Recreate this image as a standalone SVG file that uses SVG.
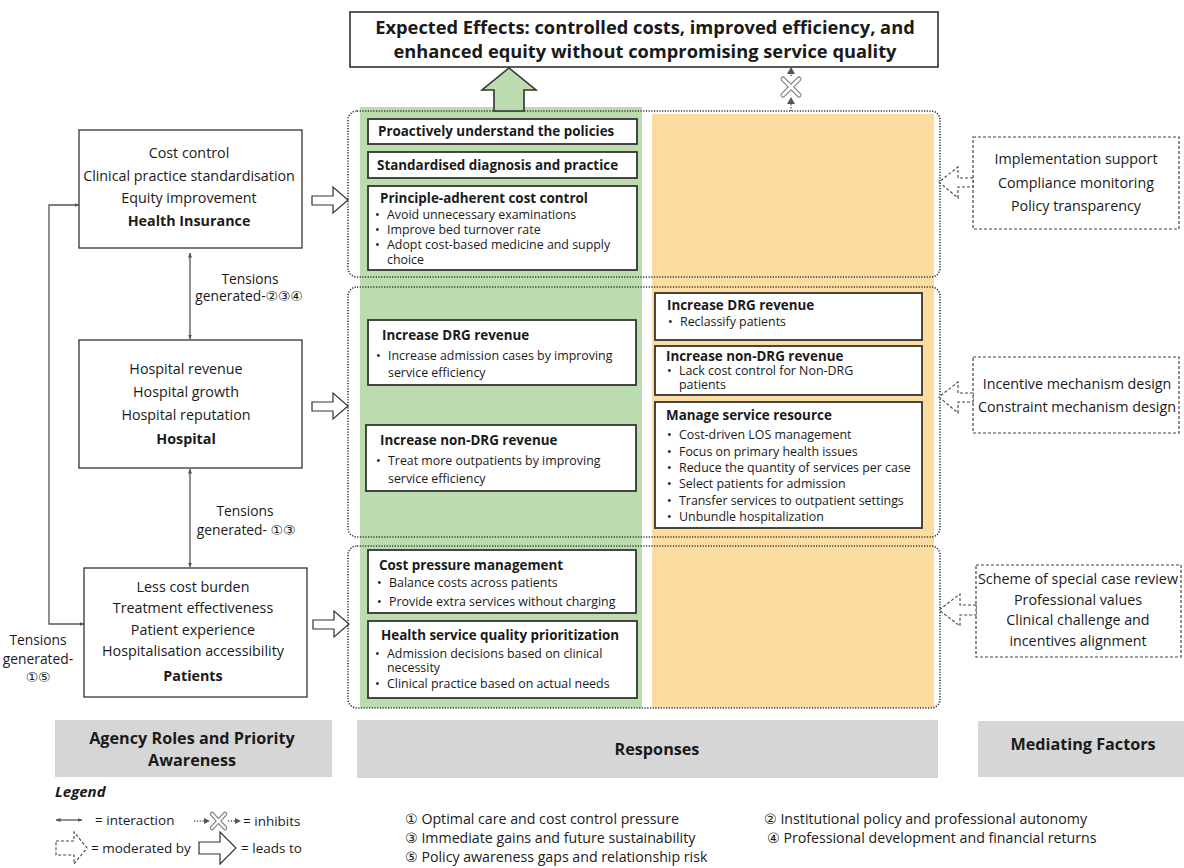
<svg xmlns="http://www.w3.org/2000/svg" width="1184" height="868" viewBox="0 0 1184 868">
<defs>
<style>
text{font-family:"Open Sans","Noto Sans","DejaVu Sans",sans-serif;fill:#1a1a1a}
.lt{font-size:14.3px;text-anchor:middle}
.lb{font-size:14.3px;font-weight:bold;text-anchor:middle}
.tt{font-size:13.4px;font-weight:bold}
.bt{font-size:12.4px}
.hd{font-size:16.2px;font-weight:bold;text-anchor:middle}
.tn{font-size:13.8px;text-anchor:middle}
.lg{font-size:13.5px}
.ls{font-size:14.2px}
.box{fill:#fff;stroke:#333;stroke-width:1.3}
.mbox{fill:#fff;stroke:#333;stroke-width:1.8}
.grp{fill:none;stroke:#333;stroke-width:1.6;stroke-dasharray:1.2 1.5}
.dbox{fill:#fff;stroke:#444;stroke-width:1.2;stroke-dasharray:3 2}
.harr{fill:#fff;stroke:#333;stroke-width:1.2}
.darr{fill:#fff;stroke:#444;stroke-width:1.1;stroke-dasharray:3 2}
.ln{fill:none;stroke:#555;stroke-width:1.3}
.dl{fill:none;stroke:#555;stroke-width:1.4;stroke-dasharray:1.2 1.6}
.hdr{fill:#d6d6d6}
</style>
<marker id="ah" viewBox="0 0 10 10" refX="9" refY="5" markerWidth="5" markerHeight="5" orient="auto-start-reverse" markerUnits="userSpaceOnUse">
<path d="M0,1 L10,5 L0,9 z" fill="#555"/>
</marker>
</defs>
<rect width="1184" height="868" fill="#fff"/>

<!-- columns background -->
<rect x="360" y="107" width="282" height="601" fill="#bcdcb0"/>
<rect x="652" y="114" width="282" height="594" fill="#fddca2"/>

<!-- group outlines -->
<rect class="grp" x="348" y="111" width="592" height="166" rx="9"/>
<rect class="grp" x="348" y="287" width="592" height="250" rx="9"/>
<rect class="grp" x="348" y="546" width="592" height="162" rx="9"/>

<!-- title -->
<g id="expected-effects">
<rect x="350" y="12" width="588" height="55" fill="#fff" stroke="#222" stroke-width="1.5"/>
<text x="645" y="34" style="font-size:18.3px;font-weight:bold;text-anchor:middle">Expected Effects: controlled costs, improved efficiency, and</text>
<text x="645" y="58" style="font-size:18.3px;font-weight:bold;text-anchor:middle">enhanced equity without compromising service quality</text>
</g>

<!-- left nodes -->
<g id="health-insurance">
<rect class="box" x="79" y="130" width="223" height="118"/>
<text class="lt" x="189" y="158">Cost control</text>
<text class="lt" x="189" y="181">Clinical practice standardisation</text>
<text class="lt" x="189" y="203">Equity improvement</text>
<text class="lb" x="189" y="226">Health Insurance</text>
</g>
<g id="hospital">
<rect class="box" x="79" y="340" width="223" height="128"/>
<text class="lt" x="186" y="374">Hospital revenue</text>
<text class="lt" x="186" y="397">Hospital growth</text>
<text class="lt" x="186" y="420">Hospital reputation</text>
<text class="lb" x="186" y="444">Hospital</text>
</g>
<g id="patients">
<rect class="box" x="84" y="568" width="223" height="129"/>
<text class="lt" x="193" y="592">Less cost burden</text>
<text class="lt" x="193" y="613">Treatment effectiveness</text>
<text class="lt" x="193" y="635">Patient experience</text>
<text class="lt" x="193" y="656">Hospitalisation accessibility</text>
<text class="lb" x="193" y="681">Patients</text>
</g>

<!-- middle: group 1 -->
<g id="proactively">
<rect class="mbox" x="368" y="119" width="269" height="25"/>
<text class="tt" x="378" y="136">Proactively understand the policies</text>
</g>
<g id="standardised">
<rect class="mbox" x="368" y="152" width="269" height="26"/>
<text class="tt" x="377" y="170">Standardised diagnosis and practice</text>
</g>
<g id="principle-cost-control">
<rect class="mbox" x="368" y="186" width="269" height="84"/>
<text class="tt" x="380" y="203">Principle-adherent cost control</text>
<text class="bt" x="375" y="219">•</text><text class="bt" x="387" y="219">Avoid unnecessary examinations</text>
<text class="bt" x="375" y="234">•</text><text class="bt" x="387" y="234">Improve bed turnover rate</text>
<text class="bt" x="375" y="249">•</text><text class="bt" x="387" y="249">Adopt cost-based medicine and supply</text>
<text class="bt" x="387" y="264">choice</text>
</g>

<!-- middle: group 2 green -->
<g id="green-drg">
<rect class="mbox" x="368" y="320" width="268" height="65"/>
<text class="tt" x="382" y="340">Increase DRG revenue</text>
<text class="bt" x="376" y="360">•</text><text class="bt" x="388" y="360">Increase admission cases by improving</text>
<text class="bt" x="388" y="377">service efficiency</text>
</g>
<g id="green-nondrg">
<rect class="mbox" x="366" y="425" width="270" height="66"/>
<text class="tt" x="380" y="445">Increase non-DRG revenue</text>
<text class="bt" x="376" y="465">•</text><text class="bt" x="388" y="465">Treat more outpatients by improving</text>
<text class="bt" x="388" y="483">service efficiency</text>
</g>

<!-- middle: group 2 orange -->
<g id="orange-drg">
<rect class="mbox" x="655" y="293" width="267" height="47"/>
<text class="tt" x="667" y="310">Increase DRG revenue</text>
<text class="bt" x="668" y="326">•</text><text class="bt" x="680" y="326">Reclassify patients</text>
</g>
<g id="orange-nondrg">
<rect class="mbox" x="655" y="346" width="267" height="49"/>
<text class="tt" x="666" y="361">Increase non-DRG revenue</text>
<text class="bt" x="667" y="375">•</text><text class="bt" x="679" y="375">Lack cost control for Non-DRG</text>
<text class="bt" x="679" y="389">patients</text>
</g>
<g id="manage-service-resource">
<rect class="mbox" x="655" y="402" width="267" height="126"/>
<text class="tt" x="666" y="420">Manage service resource</text>
<text class="bt" x="667" y="439">•</text><text class="bt" x="679" y="439">Cost-driven LOS management</text>
<text class="bt" x="667" y="456">•</text><text class="bt" x="679" y="456">Focus on primary health issues</text>
<text class="bt" x="667" y="472">•</text><text class="bt" x="679" y="472">Reduce the quantity of services per case</text>
<text class="bt" x="667" y="488">•</text><text class="bt" x="679" y="488">Select patients for admission</text>
<text class="bt" x="667" y="505">•</text><text class="bt" x="679" y="505">Transfer services to outpatient settings</text>
<text class="bt" x="667" y="521">•</text><text class="bt" x="679" y="521">Unbundle hospitalization</text>
</g>

<!-- middle: group 3 -->
<g id="cost-pressure">
<rect class="mbox" x="368" y="550" width="268" height="63"/>
<text class="tt" x="379" y="570">Cost pressure management</text>
<text class="bt" x="377" y="587">•</text><text class="bt" x="389" y="587">Balance costs across patients</text>
<text class="bt" x="377" y="606">•</text><text class="bt" x="389" y="606">Provide extra services without charging</text>
</g>
<g id="quality-prioritization">
<rect class="mbox" x="368" y="621" width="269" height="77"/>
<text class="tt" x="381" y="640">Health service quality prioritization</text>
<text class="bt" x="375" y="658">•</text><text class="bt" x="387" y="658">Admission decisions based on clinical</text>
<text class="bt" x="387" y="672">necessity</text>
<text class="bt" x="375" y="688">•</text><text class="bt" x="387" y="688">Clinical practice based on actual needs</text>
</g>

<!-- right: mediating factors -->
<g id="mf-1">
<rect class="dbox" x="973" y="137" width="206" height="92"/>
<text class="lt" x="1076" y="164">Implementation support</text>
<text class="lt" x="1076" y="188">Compliance monitoring</text>
<text class="lt" x="1076" y="211">Policy  transparency</text>
</g>
<g id="mf-2">
<rect class="dbox" x="973" y="357" width="206" height="76"/>
<text class="lt" x="1077" y="389">Incentive mechanism design</text>
<text class="lt" x="1077" y="412">Constraint mechanism design</text>
</g>
<g id="mf-3">
<rect class="dbox" x="976" y="565" width="205" height="92"/>
<text class="lt" x="1078" y="584">Scheme of special case review</text>
<text class="lt" x="1078" y="605">Professional values</text>
<text class="lt" x="1078" y="625">Clinical challenge and</text>
<text class="lt" x="1078" y="646">incentives alignment</text>
</g>

<!-- bottom headers -->
<g id="hdr-agency">
<rect class="hdr" x="55" y="720" width="277" height="57"/>
<text class="hd" x="192" y="744">Agency Roles and Priority</text>
<text class="hd" x="192" y="766">Awareness</text>
</g>
<g id="hdr-responses">
<rect class="hdr" x="357" y="720" width="581" height="58"/>
<text class="hd" x="657" y="755">Responses</text>
</g>
<g id="hdr-mediating">
<rect class="hdr" x="978" y="721" width="206" height="56"/>
<text class="hd" x="1083" y="750">Mediating Factors</text>
</g>

<!-- connectors -->
<g id="connectors">
<line class="ln" x1="190" y1="253" x2="190" y2="339" marker-start="url(#ah)" marker-end="url(#ah)"/>
<line class="ln" x1="190" y1="469" x2="190" y2="567" marker-start="url(#ah)" marker-end="url(#ah)"/>
<polyline class="ln" points="84,624 49,624 49,205 79,205" marker-start="url(#ah)" marker-end="url(#ah)"/>
<text class="tn" x="250" y="284">Tensions</text>
<text class="tn" x="249" y="301">generated-②③④</text>
<text class="tn" x="245" y="516">Tensions</text>
<text class="tn" x="246" y="535">generated- ①③</text>
<text class="tn" x="38" y="645">Tensions</text>
<text class="tn" x="38" y="664">generated-</text>
<text class="tn" x="38" y="682">①⑤</text>
<!-- leads to arrows -->
<polygon class="harr" points="312,196 333,196 333,187 348,200 333,213 333,205 312,205"/>
<polygon class="harr" points="312,402 333,402 333,393 348,406 333,419 333,411 312,411"/>
<polygon class="harr" points="313,620 334,620 334,611 349,624 334,637 334,629 313,629"/>
<!-- green big arrow -->
<polygon points="494,111 494,90 482,90 509,68 536,90 524,90 524,111" fill="#bcdcb0" stroke="#333" stroke-width="1.6"/>
<!-- inhibits -->
<line class="dl" x1="791" y1="111" x2="791" y2="102"/>
<path d="M787,104 L791,97 L795,104 z" fill="#555"/>
<line class="dl" x1="791" y1="76" x2="791" y2="72"/>
<path d="M787,74 L791,67 L795,74 z" fill="#555"/>
<g stroke-linecap="round">
<line x1="783" y1="79" x2="799" y2="95" stroke="#777" stroke-width="5"/>
<line x1="799" y1="79" x2="783" y2="95" stroke="#777" stroke-width="5"/>
<line x1="783" y1="79" x2="799" y2="95" stroke="#fff" stroke-width="3"/>
<line x1="799" y1="79" x2="783" y2="95" stroke="#fff" stroke-width="3"/>
</g>
<!-- moderated by arrows -->
<polygon class="darr" points="973,178 958,178 958,167 939,182 958,198 958,187 973,187"/>
<polygon class="darr" points="973,393 958,393 958,382 939,397 958,413 958,402 973,402"/>
<polygon class="darr" points="976,605 960,605 960,594 939,610 960,626 960,615 976,615"/>
</g>

<!-- legend -->
<g id="legend">
<text x="55" y="797" style="font-size:15px;font-weight:bold;font-style:italic">Legend</text>
<line class="ln" x1="56" y1="820" x2="82" y2="820" marker-start="url(#ah)" marker-end="url(#ah)"/>
<text class="lg" x="95" y="825">= interaction</text>
<line class="dl" x1="194" y1="821" x2="206" y2="821"/>
<path d="M204,818 L210,821 L204,824 z" fill="#555"/>
<g stroke-linecap="round">
<line x1="212" y1="814" x2="225" y2="828" stroke="#777" stroke-width="4.5"/>
<line x1="225" y1="814" x2="212" y2="828" stroke="#777" stroke-width="4.5"/>
<line x1="212" y1="814" x2="225" y2="828" stroke="#fff" stroke-width="2.5"/>
<line x1="225" y1="814" x2="212" y2="828" stroke="#fff" stroke-width="2.5"/>
</g>
<line class="dl" x1="228" y1="821" x2="236" y2="821"/>
<path d="M235,818 L241,821 L235,824 z" fill="#555"/>
<text class="lg" x="243" y="826">= inhibits</text>
<polygon class="darr" points="56,841 74,841 74,832 87,848 74,864 74,855 56,855"/>
<text class="lg" x="91" y="853">= moderated by</text>
<polygon class="harr" points="199,842 220,842 220,832 236,848 220,864 220,854 199,854"/>
<text class="lg" x="241" y="853">= leads to</text>
<text class="ls" x="405" y="824">① Optimal care and cost control pressure</text>
<text class="ls" x="405" y="843">③ Immediate gains and future sustainability</text>
<text class="ls" x="405" y="862">⑤ Policy awareness gaps and relationship risk</text>
<text class="ls" x="764" y="824">② Institutional policy and professional autonomy</text>
<text class="ls" x="767" y="843">④ Professional development and financial returns</text>
</g>
</svg>
